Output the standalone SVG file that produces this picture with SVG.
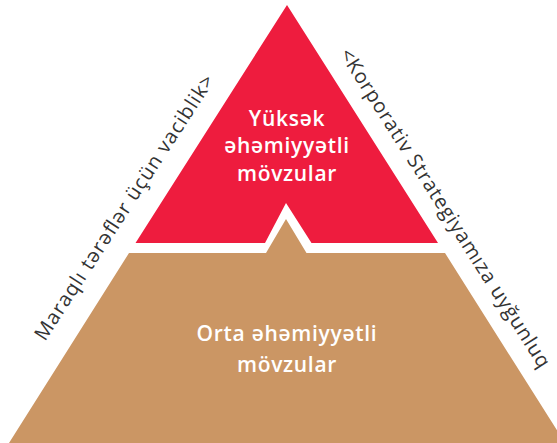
<svg xmlns="http://www.w3.org/2000/svg" width="557" height="443" viewBox="0 0 557 443">
  <style>
    .tier-label { font-family: "Open Sans", "Noto Sans", sans-serif; font-weight: 600; font-size: 21px; letter-spacing: 0.7px; fill: #ffffff; text-anchor: middle; }
    .axis-label { font-family: "Open Sans", "Noto Sans", sans-serif; font-weight: 400; font-size: 20px; fill: #333333; }
  </style>
  <rect width="557" height="443" fill="#ffffff"/>

  <!-- Top tier: high-importance topics -->
  <g id="tier-high">
    <polygon points="287,5 135.5,243 265,243 286,203 311.5,243 438,243" fill="#EE1C3E"/>
    <text class="tier-label" x="287" y="126">Yüksək</text>
    <text class="tier-label" x="287" y="153">əhəmiyyətli</text>
    <text class="tier-label" x="287" y="180.5">mövzular</text>
  </g>

  <!-- Bottom tier: medium-importance topics -->
  <g id="tier-medium">
    <polygon points="129,253 266,253 286,219 306.5,253 445,253 565,443 9,443" fill="#CB9664"/>
    <text class="tier-label" x="287" y="340.5">Orta əhəmiyyətli</text>
    <text class="tier-label" x="287" y="371.5">mövzular</text>
  </g>

  <!-- Axis captions along the pyramid sides -->
  <g id="axis-left">
    <text class="axis-label" transform="translate(45,342) rotate(-57)" textLength="312" lengthAdjust="spacing">Maraqlı tərəflər üçün vaciblik&gt;</text>
  </g>
  <g id="axis-right">
    <text class="axis-label" transform="translate(339,54) rotate(57.5)" textLength="374" lengthAdjust="spacing">&lt;Korporativ Strategiyamıza uyğunluq</text>
  </g>
</svg>
